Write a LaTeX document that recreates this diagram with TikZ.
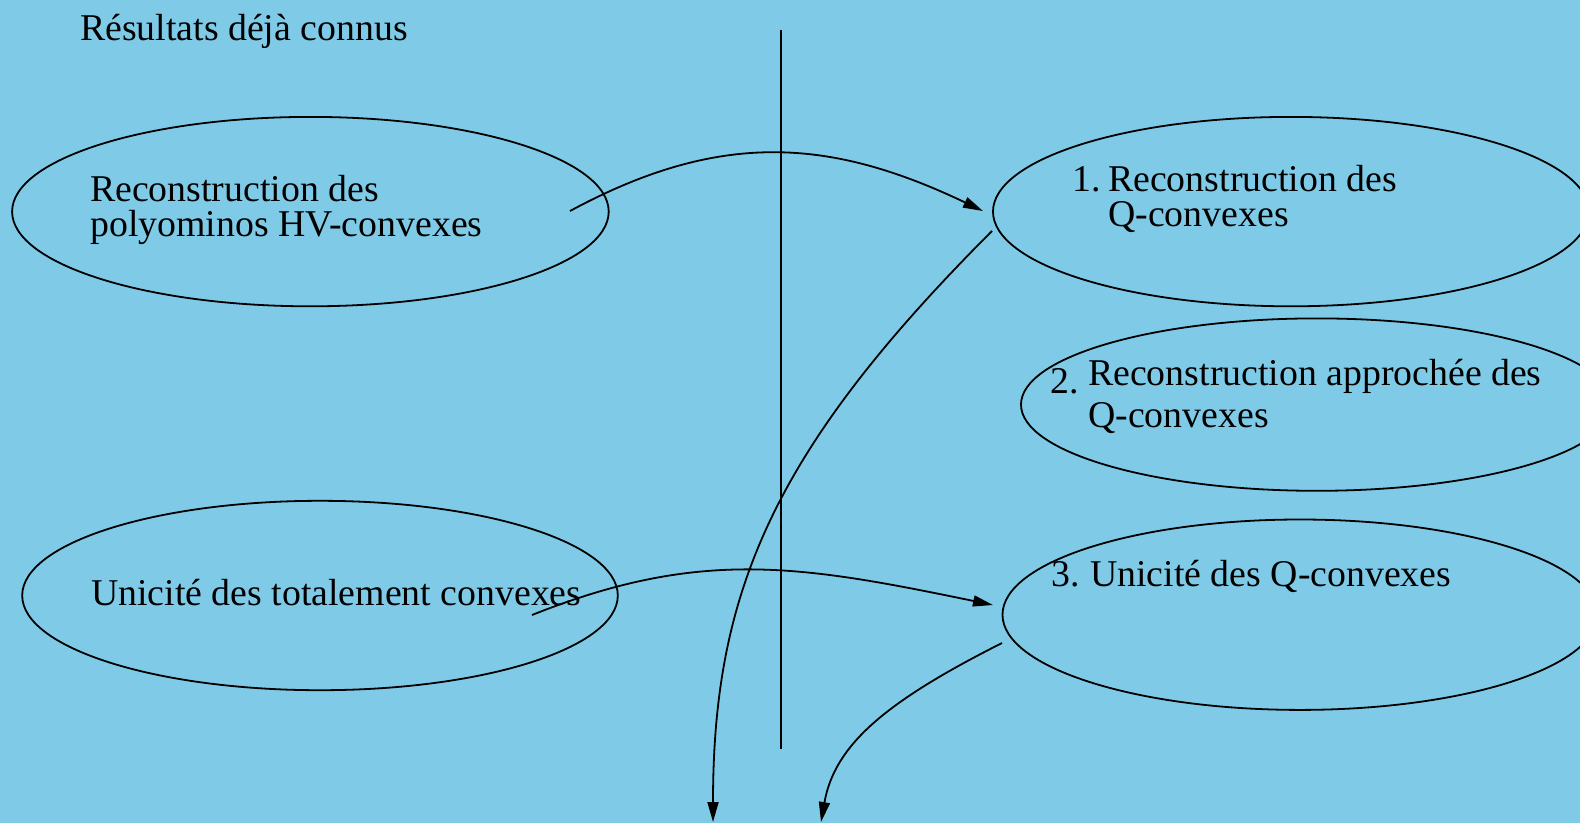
\documentclass[tikz,border=0pt]{standalone}
\usepackage{fontspec}
\setmainfont{Liberation Serif}
\usetikzlibrary{shapes.geometric,arrows.meta}
\definecolor{bgblue}{RGB}{127,203,231}
\begin{document}
\begin{tikzpicture}[x=1pt,y=-1pt,
  lbl/.style={anchor=base west,inner sep=0pt,font=\fontsize{37.8}{44}\selectfont},
  oval/.style={draw,ellipse,line width=1.8pt,inner sep=0pt},
  conn/.style={line width=1.8pt,-{Triangle[length=20pt,width=11pt]}}]
\fill[bgblue] (0,0) rectangle (1580,823);
\useasboundingbox (0,0) rectangle (1580,823);
% ellipses
\node[oval,minimum width=596.6pt,minimum height=189.4pt] (e1) at (310.4,211.6) {};
\node[oval,minimum width=595.6pt,minimum height=189.4pt] (e2) at (320,595.5) {};
\node[oval,minimum width=596pt,minimum height=189.4pt] (e3) at (1291,211.6) {};
\node[oval,minimum width=592pt,minimum height=172.4pt] (e4) at (1317,404.6) {};
\node[oval,minimum width=595pt,minimum height=190.4pt] (e5) at (1300,614.7) {};
% texts
\node[lbl] (title) at (80,40.7) {Résultats déjà connus};
\node[lbl] (t1a) at (90,201.7) {Reconstruction des};
\node[lbl] (t1b) at (90,236.7) {polyominos HV-convexes};
\node[lbl] (t2) at (91,605) {Unicité des totalement convexes};
\node[lbl] (n1) at (1072,191) {1.};
\node[lbl] (t3a) at (1108,191) {Reconstruction des};
\node[lbl] (t3b) at (1108,226.7) {Q-convexes};
\node[lbl] (n2) at (1050,393) {2.};
\node[lbl] (t4a) at (1088,385) {Reconstruction approchée des};
\node[lbl] (t4b) at (1088,427) {Q-convexes};
\node[lbl] (n3) at (1051,586) {3.};
\node[lbl] (t5) at (1090,586) {Unicité des Q-convexes};
% separator
\coordinate (vtop) at (781,30.2);
\coordinate (vbot) at (781,748.7);
\draw[line width=1.8pt] (vtop) -- (vbot);
% connector endpoints
\coordinate (a1s) at (570,211);
\coordinate (a1e) at (983,211);
\coordinate (a2s) at (532,615);
\coordinate (a2e) at (993,605);
\coordinate (a3s) at (992,231);
\coordinate (a3e) at (713,822);
\coordinate (a4s) at (1002,643);
\coordinate (a4e) at (821,822);
% connectors
\draw[conn] (a1s) .. controls (720,130) and (830,138) .. (a1e);
\draw[conn] (a2s) .. controls (700,548) and (800,565) .. (a2e);
\draw[conn] (a3s) .. controls (772,451) and (713,593) .. (a3e);
\draw[conn] (a4s) .. controls (886,701.5) and (834.6,744.6) .. (a4e);
\end{tikzpicture}
\end{document}
